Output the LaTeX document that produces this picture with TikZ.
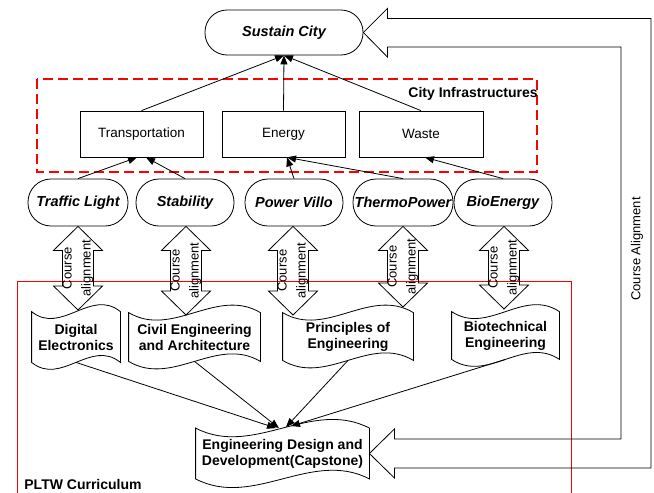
\documentclass[tikz,border=0pt]{standalone}
\usepackage{fontspec}
\setmainfont{Liberation Sans}
\usetikzlibrary{arrows.meta,calc}

\definecolor{framered}{RGB}{255,0,0}

\tikzset{
  infra box/.style={draw, fill=white, minimum width=123pt, minimum height=46pt,
    inner sep=0pt, font=\fontsize{13.5}{16}\selectfont},
  goal/.style={draw, fill=white, rounded corners=22pt, minimum width=158pt,
    minimum height=45pt, inner sep=0pt, font=\fontsize{14.5}{17}\selectfont\bfseries\itshape},
  project/.style={draw, fill=white, rounded corners=23pt, minimum width=98pt,
    minimum height=47pt, inner sep=0pt, font=\fontsize{14.5}{17}\selectfont\bfseries\itshape},
  course/.style={inner sep=0pt, align=center, font=\fontsize{14}{16}\selectfont\bfseries},
  feeds/.style={-{Triangle[length=9pt,width=7pt]}},
  align label/.style={rotate=90, align=center, inner sep=0pt,
    font=\fontsize{13}{19}\selectfont},
  cluster/.style={color=framered, line width=2.6pt, dash pattern=on 10pt off 5pt},
  curriculum/.style={color=framered, line width=1.3pt},
}

% wavy "tape" outline around a course node: #1 node name, #2 wave control offset
\newcommand\wavedoc[2]{%
  \draw (#1.north west)
    .. controls ($(#1.north west)!1/3!(#1.north east)+(0,#2)$)
    and ($(#1.north west)!2/3!(#1.north east)+(0,-#2)$) .. (#1.north east)
    -- (#1.south east)
    .. controls ($(#1.south west)!2/3!(#1.south east)+(0,-#2)$)
    and ($(#1.south west)!1/3!(#1.south east)+(0,#2)$) .. (#1.south west)
    -- cycle;}

% vertical double block arrow labelled "Course alignment":
% #1 upper tip, #2 lower tip, #3 label name
\newcommand\alignarrow[3]{%
  \draw (#1) -- ++(24.5,24) -- ++(-9,0) -- ($(#2)+(15.5,-24)$) -- ++(9,0)
    -- (#2) -- ++(-24.5,-24) -- ++(9,0) -- ($(#1)+(-15.5,24)$) -- ++(-9,0) -- cycle;
  \node[align label] (#3) at ($(#1)!0.5!(#2)$) {Course\\alignment};}

\begin{document}
\begin{tikzpicture}[x=1pt, y=-1pt, line width=0.8pt]
\useasboundingbox (0,0) rectangle (654,493);

% PLTW curriculum frame (open at the bottom)
\draw[curriculum] (17.5,494) -- (17.5,281.5) -- (571.5,281.5) -- (571.5,494);
\node[anchor=base west, inner sep=0pt, font=\fontsize{14}{16}\selectfont\bfseries]
  (pltw) at (24,489) {PLTW Curriculum};

% city infrastructures group
\draw[cluster] (37,79) rectangle (537,172);
\node[anchor=base east, inner sep=0pt, font=\fontsize{14}{16}\selectfont\bfseries]
  (infra) at (538,97) {City Infrastructures};

% goal
\node[goal] (city) at (284,32.5) {Sustain City};

% infrastructure boxes
\node[infra box] (trans) at (141.5,134) {Transportation};
\node[infra box] (energy) at (283.5,134) {Energy};
\node[infra box, minimum width=124pt] (waste) at (421,134) {Waste};

% student projects
\node[project, minimum width=100pt] (traffic) at (78,202.5) {Traffic Light};
\node[project] (stability) at (185,202.5) {Stability};
\node[project] (villo) at (294,202.5) {Power Villo};
\node[project, minimum width=100pt] (thermo) at (403,202.5) {ThermoPower};
\node[project] (bio) at (503,202.5) {BioEnergy};

% PLTW courses
\node[course, minimum width=88pt, minimum height=50pt] (digital) at (76,337) {Digital\\Electronics};
\node[course, minimum width=131pt, minimum height=48pt] (civil) at (194.5,337) {Civil Engineering\\and Architecture};
\node[course, minimum width=130pt, minimum height=47pt] (poe) at (348,336.5) {Principles of\\Engineering};
\node[course, minimum width=107pt, minimum height=47pt] (biotech) at (505.5,335.5) {Biotechnical\\Engineering};
\node[course, minimum width=173pt, minimum height=50pt] (capstone) at (282.5,453.5) {Engineering Design and\\Development(Capstone)};

\wavedoc{digital}{24}
\wavedoc{civil}{26}
\wavedoc{poe}{26}
\wavedoc{biotech}{24}
\wavedoc{capstone}{30}

% infrastructures sustain the city
\draw[feeds] (trans.north) -- (city.south);
\draw[feeds] (energy.north) -- (city.south);
\draw[feeds] (waste.north) -- (city.south);

% projects address infrastructures
\draw[feeds] (traffic.north) -- ($(trans.south)+(-4.5,0)$);
\draw[feeds] (stability.north) -- ($(trans.south)+(4.5,0)$);
\draw[feeds] (villo.north) -- ($(energy.south)+(3.5,0)$);
\draw[feeds] (thermo.north) -- ($(energy.south)+(3.5,0)$);
\draw[feeds] (bio.north) -- ($(waste.south)+(4,0)$);

% courses lead to the capstone
\draw[feeds] (digital.south) -- ($(capstone.north)+(-6.5,0)$);
\draw[feeds] (civil.south) -- ($(capstone.north)+(-3.5,0)$);
\draw[feeds] (poe.south) -- ($(capstone.north)+(3.5,-1)$);
\draw[feeds] (biotech.south) -- ($(capstone.north)+(8.5,-2)$);

% course alignment between projects and courses
\coordinate (trafficend) at (78,310);
\coordinate (stabilityend) at (186,315);
\coordinate (villoend) at (293,315);
\coordinate (thermoend) at (403,307);
\coordinate (bioend) at (504,309);
\alignarrow{traffic.south}{trafficend}{al1}
\alignarrow{stability.south-|stabilityend}{stabilityend}{al2}
\alignarrow{villo.south-|villoend}{villoend}{al3}
\alignarrow{thermo.south}{thermoend}{al4}
\alignarrow{bio.south-|bioend}{bioend}{al5}

% overall course alignment loop from the capstone back to the goal
\draw (city.east) -- ++(24,-24) -- ++(0,10) -| (651,468)
  -- ($(capstone.east)+(25,14.5)$) -- ++(0,10) -- (capstone.east)
  -- ++(25,-24.5) -- ++(0,10) -| (621,47)
  -- ($(city.east)+(24,14.5)$) -- ++(0,10) -- cycle;
\node[rotate=90, inner sep=0pt, font=\fontsize{13}{16}\selectfont] (loop) at (637,249) {Course Alignment};
\end{tikzpicture}
\end{document}
